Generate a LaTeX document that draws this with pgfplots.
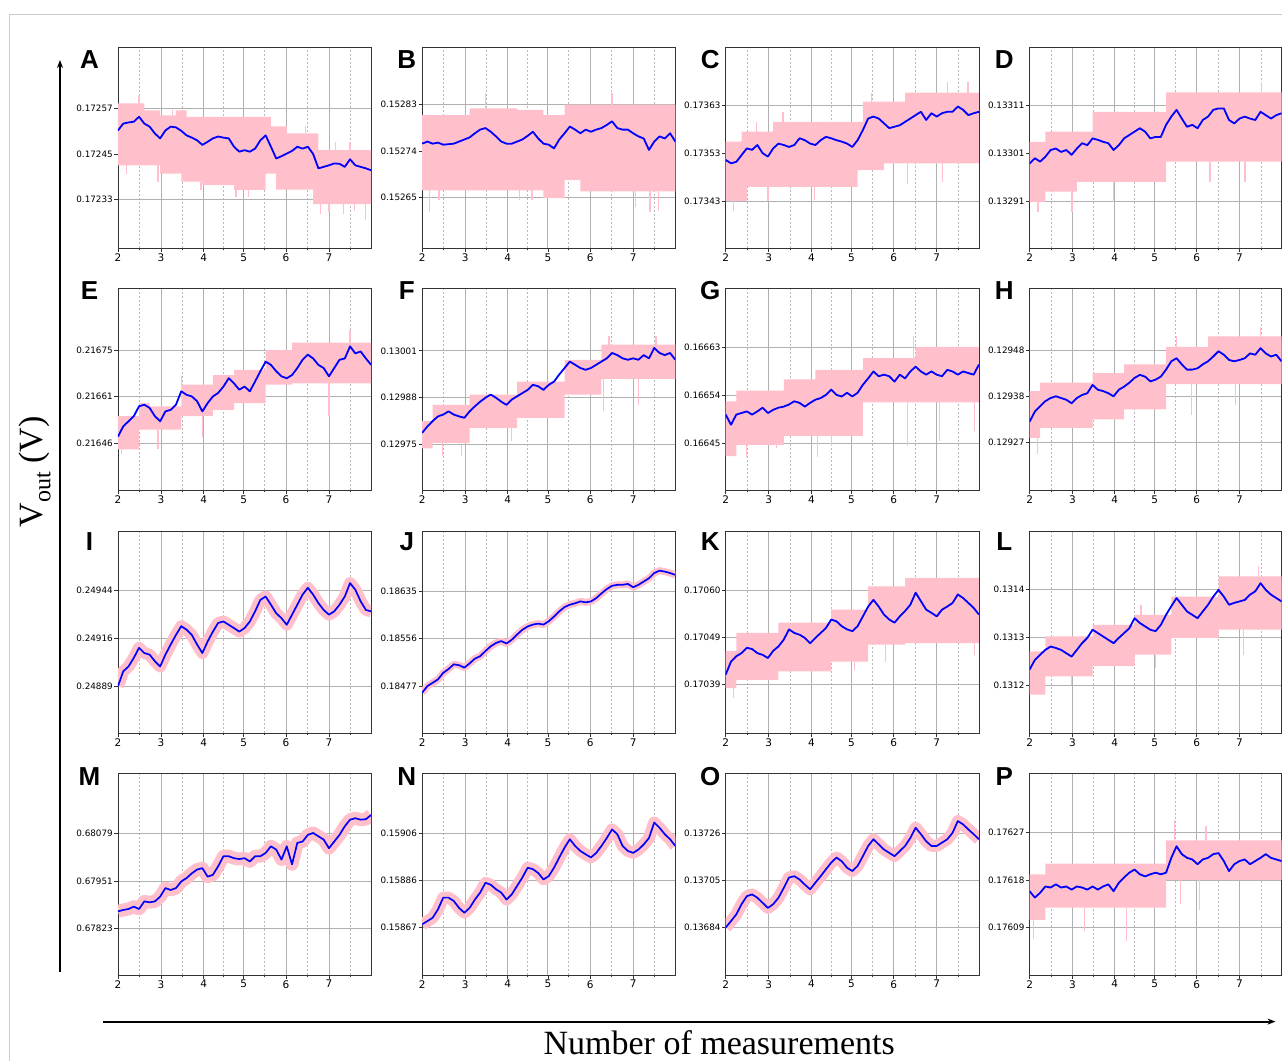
\documentclass[border=0pt]{standalone}
\usepackage{fontspec}
\setmainfont{DejaVu Sans}
\newfontfamily\arialf{Liberation Sans}
\newfontfamily\timesf{Liberation Serif}
\usepackage{pgfplots}
\usepackage{pgfplotstable}
\pgfplotsset{compat=1.18}
\usetikzlibrary{arrows.meta}
\definecolor{pinkc}{HTML}{FFC0CB}
\definecolor{gridgray}{HTML}{B0B0B0}
\definecolor{dashgray}{HTML}{B8B8B8}

\pgfplotstableread{
x A B C D E F G H I J K L M N O P
2 0.172512 0.152754 0.173516 0.132989 0.216480 0.129781 0.166504 0.129318 0.248893 0.184659 0.170411 0.131233 0.678691 0.158682 0.136838 0.176159
2.125 0.172530 0.152758 0.173509 0.133000 0.216512 0.129799 0.166485 0.129341 0.248978 0.184770 0.170440 0.131253 0.678729 0.158695 0.136867 0.176147
2.25 0.172533 0.152754 0.173512 0.132993 0.216528 0.129814 0.166504 0.129353 0.249006 0.184825 0.170452 0.131264 0.678755 0.158709 0.136897 0.176156
2.375 0.172535 0.152756 0.173526 0.133003 0.216544 0.129827 0.166507 0.129365 0.249055 0.184881 0.170459 0.131274 0.678819 0.158744 0.136943 0.176168
2.5 0.172548 0.152752 0.173540 0.133017 0.216575 0.129832 0.166510 0.129372 0.249113 0.184991 0.170471 0.131281 0.678755 0.158793 0.136979 0.176166
2.625 0.172530 0.152753 0.173537 0.133020 0.216580 0.129841 0.166504 0.129376 0.249083 0.185054 0.170468 0.131278 0.678960 0.158793 0.136987 0.176172
2.75 0.172522 0.152754 0.173547 0.133013 0.216570 0.129832 0.166510 0.129372 0.249074 0.185133 0.170459 0.131274 0.678934 0.158779 0.136972 0.176166
2.875 0.172504 0.152758 0.173530 0.133017 0.216544 0.129827 0.166517 0.129368 0.249036 0.185118 0.170455 0.131267 0.678960 0.158750 0.136949 0.176168
3 0.172491 0.152762 0.173523 0.133007 0.216528 0.129823 0.166507 0.129360 0.249006 0.185078 0.170448 0.131260 0.679088 0.158730 0.136926 0.176162
3.125 0.172512 0.152766 0.173540 0.133020 0.216559 0.129841 0.166513 0.129372 0.249074 0.185149 0.170464 0.131274 0.679318 0.158750 0.136943 0.176168
3.25 0.172522 0.152774 0.173550 0.133031 0.216564 0.129855 0.166517 0.129379 0.249132 0.185228 0.170474 0.131288 0.679267 0.158785 0.136972 0.176166
3.375 0.172520 0.152781 0.173547 0.133027 0.216580 0.129868 0.166519 0.129383 0.249187 0.185268 0.170489 0.131299 0.679318 0.158814 0.137016 0.176162
3.5 0.172511 0.152784 0.173543 0.133041 0.216622 0.129879 0.166523 0.129402 0.249237 0.185355 0.170512 0.131316 0.679497 0.158855 0.137063 0.176168
3.625 0.172499 0.152777 0.173547 0.133038 0.216611 0.129888 0.166529 0.129391 0.249217 0.185434 0.170504 0.131309 0.679587 0.158847 0.137069 0.176162
3.75 0.172493 0.152768 0.173561 0.133034 0.216606 0.129879 0.166526 0.129388 0.249187 0.185489 0.170500 0.131302 0.679715 0.158828 0.137054 0.176168
3.875 0.172486 0.152758 0.173557 0.133031 0.216591 0.129868 0.166519 0.129383 0.249132 0.185521 0.170493 0.131295 0.679817 0.158814 0.137031 0.176172
4 0.172474 0.152754 0.173550 0.133017 0.216559 0.129859 0.166526 0.129376 0.249083 0.185481 0.170481 0.131288 0.679856 0.158785 0.137010 0.176159
4.125 0.172482 0.152754 0.173547 0.133027 0.216585 0.129874 0.166532 0.129391 0.249149 0.185544 0.170493 0.131299 0.679625 0.158807 0.137040 0.176175
4.25 0.172491 0.152758 0.173557 0.133041 0.216606 0.129883 0.166535 0.129398 0.249206 0.185631 0.170504 0.131309 0.679676 0.158842 0.137069 0.176185
4.375 0.172496 0.152762 0.173564 0.133048 0.216617 0.129892 0.166541 0.129407 0.249256 0.185710 0.170515 0.131319 0.679907 0.158877 0.137100 0.176194
4.5 0.172493 0.152769 0.173561 0.133055 0.216637 0.129901 0.166551 0.129418 0.249264 0.185765 0.170534 0.131340 0.680176 0.158918 0.137130 0.176200
4.625 0.172491 0.152777 0.173557 0.133062 0.216663 0.129915 0.166541 0.129425 0.249245 0.185797 0.170530 0.131330 0.680176 0.158912 0.137153 0.176191
4.75 0.172469 0.152764 0.173554 0.133055 0.216647 0.129911 0.166538 0.129421 0.249226 0.185813 0.170519 0.131323 0.680124 0.158896 0.137136 0.176187
4.875 0.172456 0.152754 0.173550 0.133041 0.216627 0.129901 0.166545 0.129410 0.249206 0.185797 0.170512 0.131316 0.680099 0.158869 0.137107 0.176191
5 0.172460 0.152752 0.173543 0.133044 0.216637 0.129915 0.166538 0.129414 0.249226 0.185852 0.170508 0.131313 0.680124 0.158883 0.137092 0.176194
5.125 0.172456 0.152745 0.173557 0.133044 0.216622 0.129924 0.166545 0.129421 0.249264 0.185931 0.170519 0.131326 0.680035 0.158918 0.137115 0.176191
5.25 0.172464 0.152762 0.173578 0.133069 0.216653 0.129944 0.166560 0.129437 0.249322 0.186018 0.170541 0.131347 0.680176 0.158961 0.137159 0.176194
5.375 0.172486 0.152774 0.173602 0.133086 0.216685 0.129962 0.166572 0.129456 0.249388 0.186089 0.170563 0.131365 0.680176 0.159002 0.137205 0.176222
5.5 0.172499 0.152787 0.173606 0.133100 0.216715 0.129980 0.166585 0.129463 0.249407 0.186129 0.170578 0.131382 0.680265 0.159037 0.137235 0.176244
5.625 0.172469 0.152781 0.173602 0.133082 0.216705 0.129971 0.166576 0.129449 0.249360 0.186153 0.170563 0.131368 0.680444 0.159009 0.137212 0.176229
5.75 0.172438 0.152774 0.173592 0.133065 0.216685 0.129962 0.166579 0.129437 0.249311 0.186184 0.170545 0.131354 0.680355 0.158988 0.137189 0.176222
5.875 0.172444 0.152781 0.173582 0.133069 0.216669 0.129957 0.166576 0.129437 0.249283 0.186168 0.170534 0.131347 0.680086 0.158974 0.137174 0.176219
6 0.172451 0.152777 0.173585 0.133062 0.216663 0.129962 0.166566 0.129440 0.249245 0.186184 0.170527 0.131340 0.680444 0.158961 0.137159 0.176210
6.125 0.172458 0.152781 0.173588 0.133079 0.216673 0.129971 0.166579 0.129449 0.249303 0.186239 0.170541 0.131354 0.679958 0.158980 0.137182 0.176219
6.25 0.172469 0.152784 0.173595 0.133086 0.216695 0.129980 0.166572 0.129456 0.249360 0.186318 0.170553 0.131368 0.680534 0.159009 0.137205 0.176222
6.375 0.172464 0.152790 0.173602 0.133100 0.216721 0.129989 0.166585 0.129467 0.249418 0.186390 0.170567 0.131385 0.680572 0.159042 0.137241 0.176229
6.5 0.172469 0.152797 0.173609 0.133103 0.216737 0.130004 0.166594 0.129479 0.249457 0.186445 0.170594 0.131399 0.680752 0.159078 0.137287 0.176231
6.625 0.172450 0.152784 0.173616 0.133103 0.216725 0.129998 0.166585 0.129471 0.249418 0.186461 0.170575 0.131385 0.680803 0.159058 0.137258 0.176216
6.75 0.172412 0.152781 0.173599 0.133079 0.216705 0.129989 0.166579 0.129459 0.249369 0.186461 0.170556 0.131368 0.680713 0.159009 0.137226 0.176197
6.875 0.172416 0.152781 0.173613 0.133072 0.216695 0.129985 0.166585 0.129456 0.249330 0.186476 0.170549 0.131372 0.680624 0.158988 0.137205 0.176210
7 0.172420 0.152774 0.173606 0.133082 0.216669 0.129989 0.166579 0.129459 0.249303 0.186421 0.170541 0.131375 0.680393 0.158980 0.137205 0.176216
7.125 0.172425 0.152768 0.173613 0.133086 0.216695 0.129985 0.166576 0.129463 0.249322 0.186461 0.170556 0.131378 0.680572 0.158994 0.137220 0.176219
7.25 0.172424 0.152764 0.173616 0.133082 0.216721 0.129998 0.166588 0.129474 0.249360 0.186516 0.170563 0.131389 0.680752 0.159015 0.137235 0.176210
7.375 0.172416 0.152742 0.173616 0.133079 0.216725 0.129989 0.166585 0.129471 0.249407 0.186571 0.170571 0.131396 0.680982 0.159042 0.137264 0.176216
7.5 0.172436 0.152758 0.173627 0.133096 0.216763 0.130018 0.166579 0.129486 0.249484 0.186658 0.170590 0.131413 0.681161 0.159107 0.137317 0.176222
7.625 0.172420 0.152768 0.173620 0.133089 0.216741 0.130004 0.166585 0.129474 0.249446 0.186698 0.170582 0.131399 0.681200 0.159085 0.137302 0.176229
7.75 0.172416 0.152764 0.173609 0.133082 0.216747 0.129998 0.166582 0.129467 0.249380 0.186682 0.170571 0.131389 0.681161 0.159058 0.137279 0.176222
7.875 0.172412 0.152774 0.173613 0.133089 0.216725 0.130004 0.166579 0.129471 0.249330 0.186658 0.170560 0.131382 0.681174 0.159037 0.137258 0.176219
8 0.172407 0.152758 0.173616 0.133093 0.216705 0.129985 0.166598 0.129456 0.249322 0.186627 0.170545 0.131375 0.681289 0.159009 0.137235 0.176216
}\bluedata

% pink noise envelopes: upper edge left to right, lower edge right to left
\pgfplotstableread{
x y
2 0.172583
2.625 0.172565
3 0.172552
3.375 0.172565
3.5 0.172565
3.625 0.172548
4 0.172548
4.75 0.172548
5.5 0.172548
5.625 0.172523
5.75 0.172523
6 0.172504
6.625 0.172504
6.75 0.172460
8 0.172460
8 0.172318
6.75 0.172318
6.625 0.172356
6 0.172356
5.75 0.172398
5.625 0.172398
5.5 0.172355
4.75 0.172368
4 0.172377
3.625 0.172377
3.5 0.172398
3.375 0.172398
3 0.172420
2.625 0.172420
2 0.172420
}\bandA
\pgfplotstableread{
x y
2 0.152809
3.125 0.152822
4.25 0.152819
4.875 0.152809
5.375 0.152829
5.75 0.152829
8 0.152829
8 0.152662
5.75 0.152684
5.375 0.152649
4.875 0.152664
4.25 0.152664
3.125 0.152664
2 0.152664
}\bandB
\pgfplotstableread{
x y
2 0.173554
2.375 0.173575
2.5 0.173575
3.125 0.173595
5.125 0.173595
5.25 0.173637
5.75 0.173637
6.25 0.173656
8 0.173656
8 0.173509
6.25 0.173509
5.75 0.173495
5.25 0.173495
5.125 0.173460
3.125 0.173460
2.5 0.173431
2.375 0.173431
2 0.173431
}\bandC
\pgfplotstableread{
x y
2 0.133034
2.375 0.133055
3.125 0.133055
3.5 0.133096
5.25 0.133136
8 0.133136
8 0.132993
5.25 0.132951
3.5 0.132951
3.125 0.132931
2.375 0.132910
2 0.132910
}\bandD
\pgfplotstableread{
x y
2 0.216544
2.5 0.216585
2.75 0.216575
3.5 0.216643
4.25 0.216673
4.75 0.216689
5.5 0.216751
6.125 0.216775
8 0.216775
8 0.216647
6.125 0.216643
5.5 0.216585
4.75 0.216564
4.25 0.216544
3.5 0.216502
2.75 0.216502
2.5 0.216440
2 0.216440
}\bandE
\pgfplotstableread{
x y
2 0.129814
2.25 0.129859
3.125 0.129888
4.25 0.129924
5.375 0.129985
6.25 0.130027
8 0.130027
8 0.129932
6.25 0.129888
5.375 0.129823
4.25 0.129794
3.125 0.129753
2.25 0.129738
2 0.129738
}\bandF
\pgfplotstableread{
x y
2 0.166529
2.25 0.166549
3.375 0.166570
4.125 0.166588
5.25 0.166610
6.5 0.166631
8 0.166631
8 0.166527
6.5 0.166527
5.25 0.166464
4.125 0.166464
3.375 0.166447
2.25 0.166426
2 0.166426
}\bandG
\pgfplotstableread{
x y
2 0.129388
2.25 0.129407
3.5 0.129429
4.25 0.129449
5.25 0.129489
6.25 0.129513
8 0.129513
8 0.129404
6.25 0.129404
5.25 0.129346
4.25 0.129323
3.5 0.129304
2.25 0.129281
2 0.129281
}\bandH
\pgfplotstableread{
x y
2 0.170464
2.25 0.170504
3.25 0.170527
4.5 0.170556
5.375 0.170608
6.25 0.170627
8 0.170627
8 0.170481
6.25 0.170478
5.375 0.170440
4.5 0.170418
3.25 0.170399
2.25 0.170381
2 0.170381
}\bandK
\pgfplotstableread{
x y
2 0.131271
2.375 0.131302
3.5 0.131326
4.5 0.131347
5.375 0.131385
6.5 0.131427
8 0.131427
8 0.131316
6.5 0.131299
5.375 0.131264
4.5 0.131240
3.5 0.131219
2.375 0.131181
2 0.131181
}\bandL
\pgfplotstableread{
x y
2 0.176191
2.375 0.176211
5.25 0.176255
8 0.176255
8 0.176180
5.25 0.176128
2.375 0.176105
2 0.176105
}\bandP

% isolated noise spikes beyond the envelopes (pairs of points, nan = break)
\pgfplotstableread{
x y
2.2 0.172420
2.2 0.172398
nan nan
2.95 0.172420
2.95 0.172377
nan nan
3.97 0.172377
3.97 0.172355
nan nan
4.8 0.172355
4.8 0.172337
nan nan
5.1 0.172355
5.1 0.172337
nan nan
6.8 0.172318
6.8 0.172293
nan nan
7.0 0.172318
7.0 0.172298
nan nan
7.35 0.172318
7.35 0.172293
nan nan
7.6 0.172318
7.6 0.172300
nan nan
7.86 0.172318
7.86 0.172276
nan nan
2.5 0.172583
2.5 0.172605
nan nan
3.3 0.172552
3.3 0.172565
nan nan
6.45 0.172504
6.45 0.172523
nan nan
7.15 0.172460
7.15 0.172482
nan nan
7.5 0.172460
7.5 0.172482
}\spA
\pgfplotstableread{
x y
2.18 0.152664
2.18 0.152623
nan nan
2.4 0.152664
2.4 0.152646
nan nan
4.3 0.152664
4.3 0.152646
nan nan
4.6 0.152664
4.6 0.152645
nan nan
7.05 0.152662
7.05 0.152633
nan nan
7.4 0.152662
7.4 0.152623
nan nan
7.6 0.152662
7.6 0.152625
nan nan
3.5 0.152822
3.5 0.152851
nan nan
6.5 0.152829
6.5 0.152851
}\spB
\pgfplotstableread{
x y
2.19 0.173431
2.19 0.173409
nan nan
3.0 0.173460
3.0 0.173430
nan nan
4.1 0.173460
4.1 0.173432
nan nan
6.3 0.173509
6.3 0.173467
nan nan
7.13 0.173509
7.13 0.173471
nan nan
5.45 0.173637
5.45 0.173656
nan nan
7.26 0.173656
7.26 0.173677
nan nan
7.74 0.173656
7.74 0.173677
nan nan
2.73 0.173575
2.73 0.173594
nan nan
3.36 0.173595
3.36 0.173616
}\spC
\pgfplotstableread{
x y
2.2 0.132910
2.2 0.132889
nan nan
3.01 0.132931
3.01 0.132889
nan nan
4.0 0.132951
4.0 0.132910
nan nan
6.3 0.132993
6.3 0.132951
nan nan
7.13 0.132993
7.13 0.132951
nan nan
7.52 0.133136
7.52 0.133158
}\spD
\pgfplotstableread{
x y
2.08 0.216440
2.08 0.216424
nan nan
2.95 0.216502
2.95 0.216440
nan nan
4.0 0.216544
4.0 0.216480
nan nan
7.0 0.216647
7.0 0.216544
nan nan
3.5 0.216643
3.5 0.216670
nan nan
7.5 0.216775
7.5 0.216815
}\spE
\pgfplotstableread{
x y
2.48 0.129753
2.48 0.129716
nan nan
2.94 0.129753
2.94 0.129716
nan nan
4.12 0.129794
4.12 0.129758
nan nan
6.3 0.129932
6.3 0.129841
nan nan
7.12 0.129932
7.12 0.129859
nan nan
6.43 0.130027
6.43 0.130050
nan nan
7.54 0.130027
7.54 0.130050
}\spF
\pgfplotstableread{
x y
2.5 0.166447
2.5 0.166424
nan nan
3.2 0.166447
3.2 0.166441
nan nan
4.17 0.166464
4.17 0.166425
nan nan
4.5 0.166464
4.5 0.166445
nan nan
6.3 0.166527
6.3 0.166445
nan nan
7.07 0.166527
7.07 0.166454
nan nan
7.9 0.166527
7.9 0.166473
nan nan
6.45 0.166610
6.45 0.166652
}\spG
\pgfplotstableread{
x y
2.18 0.129281
2.18 0.129243
nan nan
5.85 0.129404
5.85 0.129334
nan nan
6.9 0.129404
6.9 0.129357
nan nan
5.5 0.129489
5.5 0.129513
nan nan
7.5 0.129513
7.5 0.129534
}\spH
\pgfplotstableread{
x y
2.18 0.170381
2.18 0.170359
nan nan
5.05 0.170440
5.05 0.170422
nan nan
5.78 0.170478
5.78 0.170440
nan nan
7.9 0.170481
7.9 0.170455
}\spK
\pgfplotstableread{
x y
3.0 0.131219
3.0 0.131201
nan nan
5.0 0.131264
5.0 0.131236
nan nan
7.1 0.131316
7.1 0.131264
nan nan
7.45 0.131427
7.45 0.131448
nan nan
4.65 0.131347
4.65 0.131368
}\spL
\pgfplotstableread{
x y
2.1 0.176105
2.1 0.176068
nan nan
4.3 0.176128
4.3 0.176065
nan nan
3.3 0.176128
3.3 0.176084
nan nan
5.6 0.176180
5.6 0.176134
nan nan
6.05 0.176180
6.05 0.176124
nan nan
5.45 0.176255
5.45 0.176294
nan nan
6.2 0.176255
6.2 0.176282
}\spP

\pgfplotsset{panel/.style={
  set layers=standard, axis on top=false,
  scale only axis, width=253.3pt, height=201.5pt, anchor=north west,
  xmin=2, xmax=8,
  xtick={2,3.02,4.03,4.98,5.98,7.0}, xticklabels={2,3,4,5,6,7},
  minor xtick={2.51,3.52,4.5,5.47,6.49,7.51},
  xmajorgrids, ymajorgrids, xminorgrids,
  major grid style={draw=gridgray, line width=0.8pt},
  minor grid style={draw=dashgray, line width=0.6pt, dash pattern=on 2.5pt off 1.5pt},
  axis line style={draw=black!80, line width=0.8pt},
  major tick length=3.5pt, minor tick length=2pt,
  tick align=outside, tick pos=left,
  tick style={draw=black!80, line width=0.7pt},
  xticklabel style={font=\fontsize{10.5}{10.5}\selectfont, inner sep=1.5pt},
  yticklabel style={font=\fontsize{8.8}{8.8}\selectfont, inner sep=1.5pt},
  unbounded coords=jump,
}, lastcol/.style={width=252pt}}

% #1 placement options, #2 column, #3 ymin, #4 ymax, #5 ticks, #6 tick labels, #7 band table, #8 spike table
\newcommand{\bandpanel}[8]{%
\begin{axis}[panel, #1, ymin=#3, ymax=#4, ytick={#5}, yticklabels={#6}]
\addplot[fill=pinkc, draw=none, const plot] table[x=x,y=y]{#7};
\addplot[pinkc, line width=1.3pt] table[x=x,y=y]{#8};
\addplot[blue, line width=1.8pt, line join=round] table[x=x,y=#2]{\bluedata};
\end{axis}}

% #7 width of the pink noise band around the line
\newcommand{\linepanel}[7]{%
\begin{axis}[panel, #1, ymin=#3, ymax=#4, ytick={#5}, yticklabels={#6}]
\addplot[pinkc, line width=#7, line join=round] table[x=x,y=#2]{\bluedata};
\addplot[blue, line width=1.7pt, line join=round] table[x=x,y=#2]{\bluedata};
\end{axis}}

\begin{document}
\begin{tikzpicture}
\path (0,0) rectangle (1282pt,-1061pt);
\draw[draw=black!20, line width=1pt] (9.5pt,-1061pt) -- (9.5pt,-14.3pt) -- (1282pt,-14.3pt);

\bandpanel{at={(118pt,-47pt)}}{A}{0.172201}{0.172732}{0.17233,0.17245,0.17257}{0.17233,0.17245,0.17257}{\bandA}{\spA}
\bandpanel{at={(422.3pt,-47pt)}}{B}{0.1525525}{0.15294}{0.15265,0.15274,0.15283}{0.15265,0.15274,0.15283}{\bandB}{\spB}
\bandpanel{at={(726pt,-47pt)}}{C}{0.1733324}{0.1737505}{0.17343,0.17353,0.17363}{0.17343,0.17353,0.17363}{\bandC}{\spC}
\bandpanel{at={(1030pt,-47pt)},lastcol}{D}{0.1328136}{0.13323}{0.13291,0.13301,0.13311}{0.13291,0.13301,0.13311}{\bandD}{\spD}

\bandpanel{at={(118pt,-289pt)}}{E}{0.2163115}{0.2169433}{0.21646,0.216605,0.21675}{0.21646,0.21661,0.21675}{\bandE}{\spE}
\bandpanel{at={(422.3pt,-289pt)}}{F}{0.1296207}{0.1301828}{0.12975,0.12988,0.13001}{0.12975,0.12988,0.13001}{\bandF}{\spF}
\bandpanel{at={(726pt,-289pt)}}{G}{0.1663619}{0.16674}{0.16645,0.16654,0.16663}{0.16645,0.16654,0.16663}{\bandG}{\spG}
\bandpanel{at={(1030pt,-289pt)},lastcol}{H}{0.1291611}{0.1296215}{0.12927,0.129375,0.12948}{0.12927,0.12938,0.12948}{\bandH}{\spH}

\linepanel{at={(118pt,-532pt)}}{I}{0.2486235}{0.249778}{0.24889,0.249165,0.24944}{0.24889,0.24916,0.24944}{12pt}
\linepanel{at={(422.3pt,-532pt)}}{J}{0.183982}{0.187347}{0.18477,0.18556,0.18635}{0.18477,0.18556,0.18635}{7pt}
\bandpanel{at={(726pt,-532pt)}}{K}{0.17028}{0.17073}{0.17039,0.170495,0.1706}{0.17039,0.17049,0.17060}{\bandK}{\spK}
\bandpanel{at={(1030pt,-532pt)},lastcol}{L}{0.1311004}{0.13152}{0.1312,0.1313,0.1314}{0.1312,0.1313,0.1314}{\bandL}{\spL}

\linepanel{at={(118pt,-774pt)}}{M}{0.676974}{0.682399}{0.67823,0.67951,0.68079}{0.67823,0.67951,0.68079}{13pt}
\linepanel{at={(422.3pt,-774pt)}}{N}{0.1584693}{0.1593108}{0.15867,0.158865,0.15906}{0.15867,0.15886,0.15906}{12pt}
\linepanel{at={(726pt,-774pt)}}{O}{0.1366239}{0.13753}{0.13684,0.13705,0.13726}{0.13684,0.13705,0.13726}{12pt}
\bandpanel{at={(1030pt,-774pt)},lastcol}{P}{0.1760006}{0.1763809}{0.17609,0.17618,0.17627}{0.17609,0.17618,0.17627}{\bandP}{\spP}

\begin{scope}[every node/.style={font=\arialf\bfseries\fontsize{26}{26}\selectfont, inner sep=0pt}]
\node at (89.5pt,-60pt) {A};
\node at (407pt,-60pt) {B};
\node at (710.5pt,-60pt) {C};
\node at (1004.7pt,-60pt) {D};
\node at (89.5pt,-291pt) {E};
\node at (407pt,-291pt) {F};
\node at (710.5pt,-291pt) {G};
\node at (1004.7pt,-291pt) {H};
\node at (89.5pt,-541.5pt) {I};
\node at (407pt,-541.5pt) {J};
\node at (710.5pt,-541.5pt) {K};
\node at (1004.7pt,-541.5pt) {L};
\node at (89.5pt,-777pt) {M};
\node at (407pt,-777pt) {N};
\node at (710.5pt,-777pt) {O};
\node at (1004.7pt,-777pt) {P};
\end{scope}

\draw[line width=2.2pt, -{Stealth[length=8pt,width=6pt]}] (60pt,-972pt) -- (60pt,-60pt);
\draw[line width=2.2pt, -{Stealth[length=8pt,width=6pt]}] (103pt,-1022pt) -- (1276pt,-1022pt);
\node[rotate=90, font=\timesf\fontsize{34}{34}\selectfont, inner sep=0pt] at (35pt,-472pt) {V\raisebox{-0.22em}{\fontsize{24}{24}\selectfont out} (V)};
\node[anchor=base, font=\timesf\fontsize{34}{34}\selectfont, inner sep=0pt] at (719.5pt,-1055pt) {Number of measurements};
\end{tikzpicture}
\end{document}
